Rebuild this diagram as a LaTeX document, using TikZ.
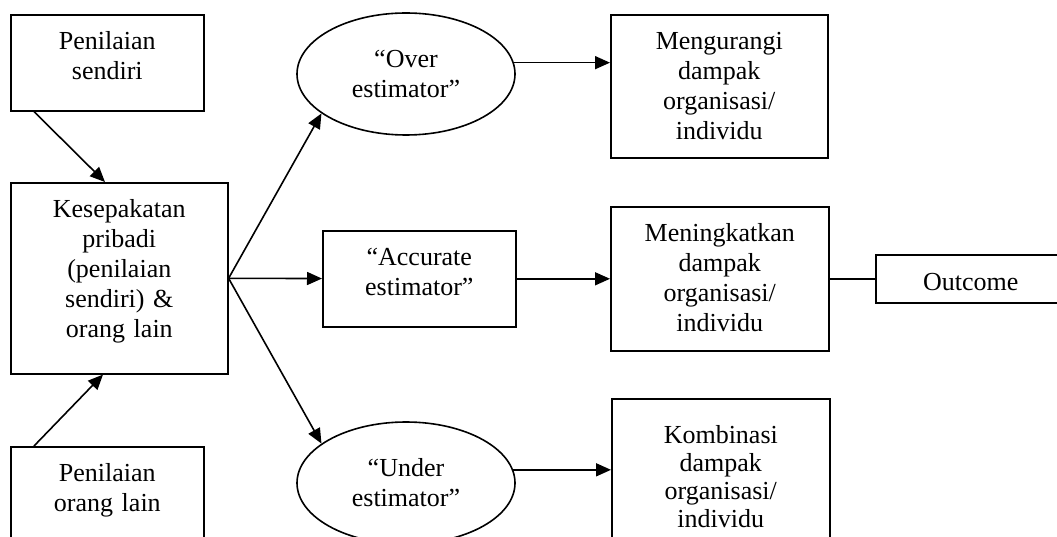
\documentclass[tikz,border=0pt]{standalone}
\usepackage{fontspec}
\setmainfont{Liberation Serif}
\usetikzlibrary{shapes.geometric,arrows.meta}

\begin{document}
\begin{tikzpicture}[
  x=1pt, y=-1pt,
  font=\fontsize{26}{30}\selectfont,
  box/.style={draw, line width=1.6pt, anchor=north west, align=center,
              inner xsep=0pt, inner ysep=0pt, text height=35pt},
  oval/.style={draw, ellipse, line width=1.6pt, align=center,
               minimum width=218pt, minimum height=122pt, inner sep=0pt},
  ar/.style={-{Triangle[length=15pt,width=13pt]}, line width=1.6pt}
]
\clip (0,0) rectangle (1057,537);

\node[box, text width=193pt, text depth=61pt] (self) at (10,14) {Penilaian\\sendiri};
\node[box, text width=217pt, text depth=156pt] (agree) at (10,182)
  {Kesepakatan\\pribadi\\(penilaian\\sendiri) \&\\orang lain};
\node[box, text width=193pt, text depth=110pt] (others) at (10,446) {Penilaian\\orang lain};

\node[oval] (over) at (406,74) {“Over\\estimator”};
\node[box, text width=193pt, text depth=61pt] (accurate) at (322,230) {“Accurate\\estimator”};
\node[oval] (under) at (406,483) {“Under\\estimator”};

\node[box, text width=217pt, text depth=108pt] (reduce) at (610,14)
  {Mengurangi\\dampak\\organisasi/\\individu};
\node[box, text width=218pt, text depth=109pt] (increase) at (610,206)
  {Meningkatkan\\dampak\\organisasi/\\individu};
\node[box, text width=218pt, text height=45pt, text depth=150pt,
      font=\fontsize{26}{28}\selectfont] (combine) at (611,398)
  {Kombinasi\\dampak\\organisasi/\\individu};
\node[box, text width=190pt, text height=36pt, text depth=12pt] (outcome) at (875,254) {Outcome};

\draw[ar] ([xshift=24pt]self.south west) -- ([xshift=95pt]agree.north west);
\draw[ar] ([xshift=24pt]others.north west) -- ([xshift=93pt]agree.south west);
\draw[ar] (agree.east) -- (over.205);
\draw[ar] (agree.east) -- (accurate);
\draw[ar] (agree.east) -- (under.155);
\draw[ar] (over.6) -- (over.6 -| reduce.west);
\draw[ar] (accurate) -- (increase);
\draw[ar] (under.7) -- (under.7 -| combine.west);
\draw[line width=1.6pt] (increase) -- (outcome);
\end{tikzpicture}
\end{document}
